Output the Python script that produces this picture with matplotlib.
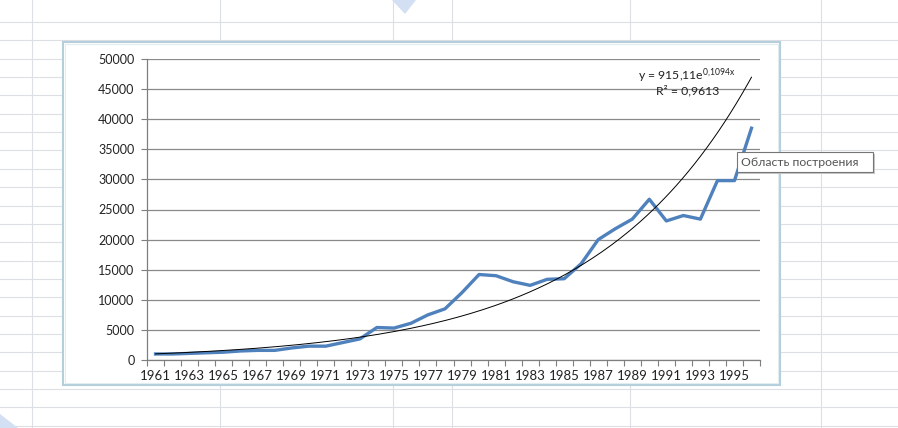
import numpy as np
import matplotlib.pyplot as plt
from matplotlib.patches import Rectangle, Polygon

plt.rcParams['font.family'] = ['Lato', 'DejaVu Sans']
plt.rcParams['mathtext.default'] = 'regular'

# data
years = list(range(1961, 1997))
values = [1000, 1000, 1100, 1200, 1300, 1500, 1600, 1600, 2000, 2300,
          2300, 2900, 3500, 5400, 5300, 6100, 7500, 8500, 11200, 14200,
          14000, 13000, 12400, 13400, 13500, 16000, 20000, 21800, 23400, 26700,
          23100, 24000, 23400, 29800, 29800, 38500]
yticks = [0, 5000, 10000, 15000, 20000, 25000, 30000, 35000, 40000, 45000, 50000]

# exponential trendline as printed on the chart
trend_a = 915.11
trend_b = 0.1094
eq_text = r'y = 915,11e$^{0{,}1094x}$'
r2_text = 'R² = 0,9613'
tooltip = 'Область построения'

W, H = 898, 428
fig = plt.figure(figsize=(W / 100, H / 100), dpi=100)
fig.patch.set_facecolor('white')


def px(x, y):
    # pixel coords (top-left origin) -> figure fraction
    return x / W, 1 - y / H


# spreadsheet cell grid in the background
grid_c = '#dcdfe3'
for gx in [32, 220, 393, 452, 630, 821]:
    fig.add_artist(plt.Line2D([gx / W, gx / W], [0, 1], color=grid_c, lw=0.8, zorder=0))
for k in range(23):
    gy = 22 + 18.35 * k
    fig.add_artist(plt.Line2D([0, 1], [1 - gy / H, 1 - gy / H], color=grid_c, lw=0.8, zorder=0))

# faint blue decorations of the page
for pts in ([(392, 0), (416, 0), (405, 14)], [(0, 414), (0, 428), (18, 428)]):
    fig.add_artist(Polygon([px(*p) for p in pts], closed=True, facecolor='#d3dff3',
                           edgecolor='none', transform=fig.transFigure, zorder=0.5))

# chart object frame (selected)
x0, y0 = px(63, 385)
x1, y1 = px(780, 42)
fig.add_artist(Rectangle((x0, y0), x1 - x0, y1 - y0, transform=fig.transFigure,
                         facecolor='white', edgecolor='#b4cfdb', lw=1.5, zorder=1))
fig.add_artist(Rectangle((x0 + 2 / W, y0 + 2 / H), x1 - x0 - 4 / W, y1 - y0 - 4 / H,
                         transform=fig.transFigure, facecolor='none',
                         edgecolor='#e2edf2', lw=0.8, zorder=1))

ax = fig.add_axes([147 / W, 68 / H, 613 / W, 301 / H])
ax.set_zorder(2)
ax.patch.set_alpha(0)

xs = np.arange(len(years))
ax.plot(xs, values, color='#4f81bd', lw=2.4, solid_joinstyle='round', zorder=3)

tx = np.linspace(0, len(years) - 1, 200)
ax.plot(tx, trend_a * np.exp(trend_b * (tx + 1)), color='black', lw=0.7, zorder=4)

ax.set_xlim(-0.5, len(years) - 0.5)
ax.set_ylim(0, 50000)
ax.set_yticks(yticks)
ax.set_yticklabels([str(v) for v in yticks], fontsize=9, color='#222222')
ax.yaxis.grid(True, color='#8a8a8a', lw=0.9)
ax.set_axisbelow(True)

ax.set_xticks(np.arange(-0.5, len(years), 1))
ax.set_xticklabels([])
ax.set_xticks(xs[::2], minor=True)
ax.set_xticklabels([str(y) for y in years[::2]], minor=True, fontsize=9.5, color='#222222')
ax.tick_params(axis='x', which='major', length=4, color='#7f7f7f', direction='out')
ax.tick_params(axis='x', which='minor', length=0, pad=7)
ax.tick_params(axis='y', length=4, color='#7f7f7f', pad=5)

for s in ['top', 'right']:
    ax.spines[s].set_visible(False)
for s in ['left', 'bottom']:
    ax.spines[s].set_color('#7f7f7f')
    ax.spines[s].set_linewidth(0.9)

fig.text(*px(638, 76), eq_text, fontsize=8.8, va='center', ha='left', color='#222222', zorder=5)
fig.text(*px(656, 91), r2_text, fontsize=8.8, va='center', ha='left', color='#222222', zorder=5)

# tooltip box
tx0, ty0 = px(737, 172)
tx1, ty1 = px(873, 152)
fig.add_artist(Rectangle((tx0 + 2 / W, ty0 - 2 / H), tx1 - tx0, ty1 - ty0, transform=fig.transFigure,
                         facecolor='#c8c8c8', edgecolor='none', zorder=6))
fig.add_artist(Rectangle((tx0, ty0), tx1 - tx0, ty1 - ty0, transform=fig.transFigure,
                         facecolor='white', edgecolor='#767676', lw=0.8, zorder=7))
fig.text(*px(741, 162), tooltip, fontsize=8.8, va='center', ha='left', color='#555555', zorder=8)

fig.savefig('out.png', dpi=100)
